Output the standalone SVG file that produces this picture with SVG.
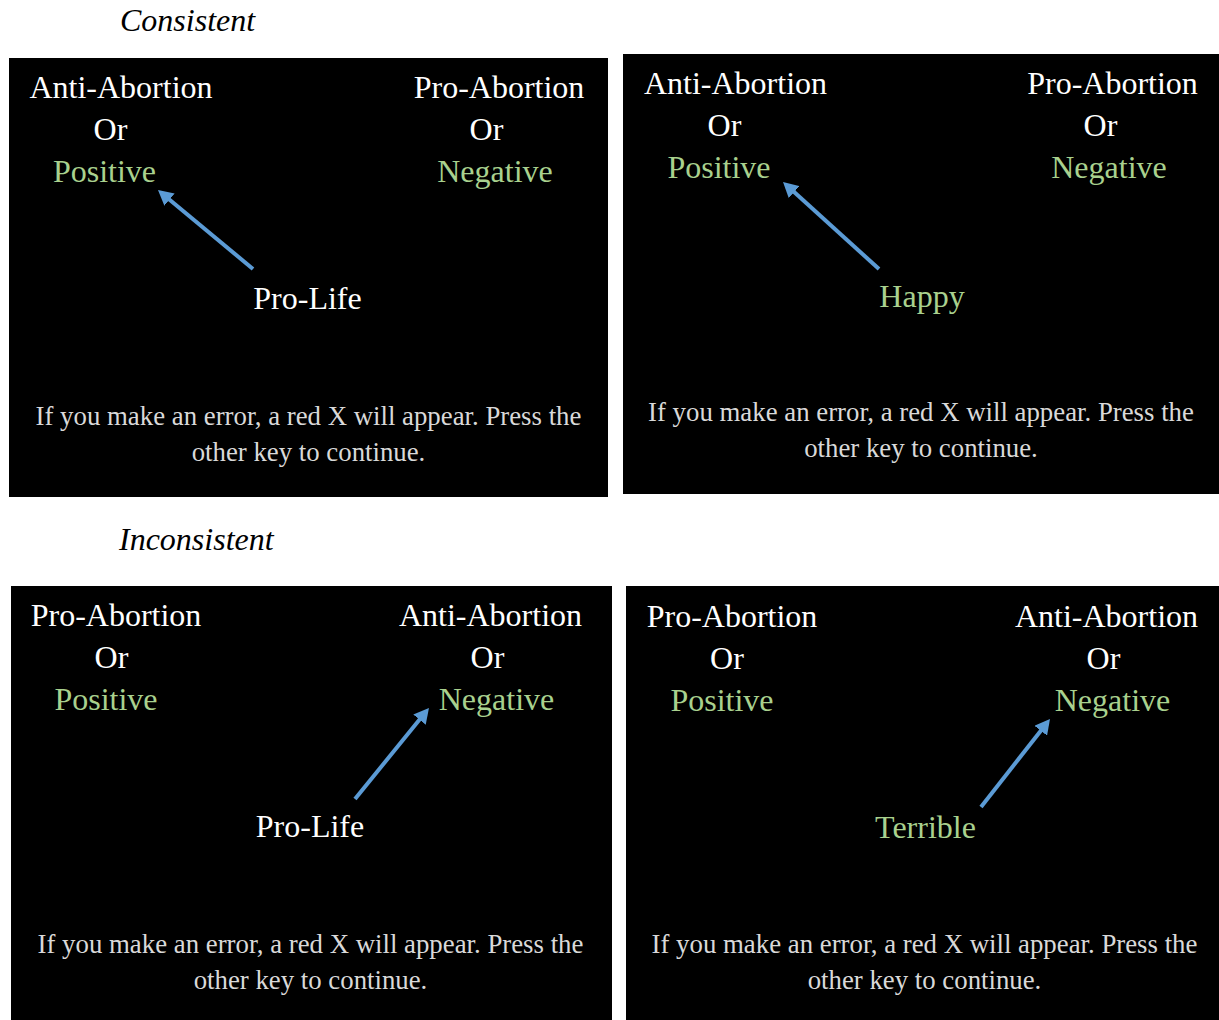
<svg xmlns="http://www.w3.org/2000/svg" width="1219" height="1020" viewBox="0 0 1219 1020">
<style>
text{font-family:"Liberation Serif","Times New Roman",serif}
.ttl{font-size:32px;font-style:italic;fill:#000}
.panel{fill:#000}
.w{font-size:32px;fill:#fff;text-anchor:middle}
.g{font-size:32px;fill:#a9d18e;text-anchor:middle}
.ins{font-size:26.8px;fill:#d9d9d9;text-anchor:middle}
.arr{stroke:#5b9bd5;stroke-width:4;fill:none;marker-end:url(#ah)}
</style>
<defs>
<marker id="ah" markerUnits="userSpaceOnUse" viewBox="0 0 15 16" markerWidth="15" markerHeight="16" refX="3" refY="8" orient="auto">
<path d="M0,0 L15,8 L0,16 z" fill="#5b9bd5"/>
</marker>
</defs>
<rect width="1219" height="1020" fill="#fff"/>
<text class="ttl" x="120" y="31">Consistent</text>
<text class="ttl" x="119" y="550">Inconsistent</text>

<g id="panel-consistent-1">
<rect class="panel" x="9" y="58" width="599" height="439"/>
<text class="w" x="121" y="98">Anti-Abortion</text>
<text class="w" x="110.5" y="140">Or</text>
<text class="g" x="104.5" y="182">Positive</text>
<text class="w" x="499" y="98">Pro-Abortion</text>
<text class="w" x="486.5" y="140">Or</text>
<text class="g" x="495" y="182">Negative</text>
<text class="w" x="307.5" y="309">Pro-Life</text>
<text class="ins" x="308.5" y="425">If you make an error, a red X will appear. Press the</text>
<text class="ins" x="308.5" y="461">other key to continue.</text>
</g>

<g id="panel-consistent-2">
<rect class="panel" x="623" y="54" width="596" height="440"/>
<text class="w" x="735.5" y="94">Anti-Abortion</text>
<text class="w" x="724.5" y="136">Or</text>
<text class="g" x="719" y="178">Positive</text>
<text class="w" x="1112.5" y="94">Pro-Abortion</text>
<text class="w" x="1100.5" y="136">Or</text>
<text class="g" x="1109" y="178">Negative</text>
<text class="g" x="922" y="307">Happy</text>
<text class="ins" x="921" y="421">If you make an error, a red X will appear. Press the</text>
<text class="ins" x="921" y="457">other key to continue.</text>
</g>

<g id="panel-inconsistent-1">
<rect class="panel" x="11" y="586" width="601" height="434"/>
<text class="w" x="116" y="626">Pro-Abortion</text>
<text class="w" x="111.5" y="668">Or</text>
<text class="g" x="106" y="710">Positive</text>
<text class="w" x="490.5" y="626">Anti-Abortion</text>
<text class="w" x="487.5" y="668">Or</text>
<text class="g" x="496.5" y="710">Negative</text>
<text class="w" x="310" y="837">Pro-Life</text>
<text class="ins" x="310.5" y="953">If you make an error, a red X will appear. Press the</text>
<text class="ins" x="310.5" y="989">other key to continue.</text>
</g>

<g id="panel-inconsistent-2">
<rect class="panel" x="626" y="586" width="593" height="434"/>
<text class="w" x="732" y="627">Pro-Abortion</text>
<text class="w" x="727" y="669">Or</text>
<text class="g" x="722" y="711">Positive</text>
<text class="w" x="1106.5" y="627">Anti-Abortion</text>
<text class="w" x="1103.5" y="669">Or</text>
<text class="g" x="1112.5" y="711">Negative</text>
<text class="g" x="925.5" y="838">Terrible</text>
<text class="ins" x="924.5" y="953">If you make an error, a red X will appear. Press the</text>
<text class="ins" x="924.5" y="989">other key to continue.</text>
</g>

<g id="connectors">
<path class="arr" d="M253,269 L167.2,197.7"/>
<path class="arr" d="M879,269 L791.9,190.1"/>
<path class="arr" d="M355,799 L421.4,717.3"/>
<path class="arr" d="M981,807 L1042.6,728.4"/>
</g>
</svg>
